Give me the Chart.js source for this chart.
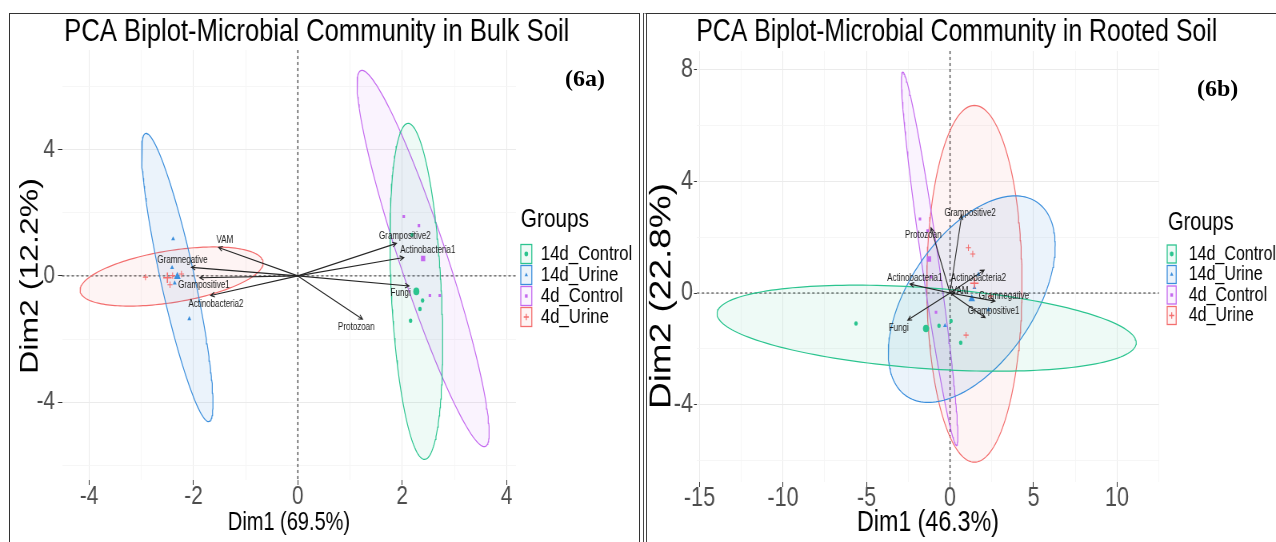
<!DOCTYPE html>
<html><head><meta charset="utf-8">
<script src="https://cdn.jsdelivr.net/npm/chart.js@4.4.0/dist/chart.umd.min.js"></script>
<style>
html,body{margin:0;padding:0;background:#fff;width:1276px;height:542px;overflow:hidden;position:relative;}
canvas{position:absolute;top:0;transform:scaleX(0.8);transform-origin:0 0;}
#c1{left:0;}
#c2{left:640px;}
.frame1{position:absolute;left:9px;top:13px;width:629px;height:540px;border-top:1.5px solid #333;border-left:1.5px solid #333;border-right:1.5px solid #333;}
.frame2{position:absolute;left:643px;top:13px;width:700px;height:540px;border-top:1.5px solid #333;border-left:4px double #444;}
.tag{position:absolute;font-family:'Liberation Serif','Times New Roman',serif;font-weight:bold;font-size:24px;color:#000;line-height:28px;}
</style></head>
<body>
<div class="frame1"></div><div class="frame2"></div>
<canvas id="c1" width="795" height="542"></canvas>
<canvas id="c2" width="795" height="542"></canvas>
<div class="tag" style="left:565px;top:64px">(6a)</div>
<div class="tag" style="left:1197px;top:74px">(6b)</div>
<script>
// ---------------- data ----------------
const groups = ['14d_Control','14d_Urine','4d_Control','4d_Urine'];
const groupColors = ['#2BC48F','#3B8EDC','#C469EF','#F36E6E'];
const groupFillColors = ['rgba(43,196,143,0.08)','rgba(59,142,220,0.10)','rgba(196,105,239,0.08)','rgba(243,110,110,0.08)'];
const groupShapes = ['circle','triangle','rect','cross'];

// Bulk soil (6a)
const bulkTitle = 'PCA Biplot-Microbial Community in Bulk Soil';
const bulkXTitle = 'Dim1 (69.5%)';
const bulkYTitle = 'Dim2 (12.2%)';
const bulkXRange = [-4.52, 4.18];
const bulkYRange = [-6.46, 7.15];
const bulkXGrid = [-4,-3,-2,-1,0,1,2,3,4];
const bulkXLabels = [-4,-2,0,2,4];
const bulkYGrid = [-6,-4,-2,0,2,4,6];
const bulkYLabels = [-4,0,4];
const bulkPointsX = [[2.19,2.39,2.34,2.16],[-2.39,-2.41,-2.36,-2.08],[2.03,2.32,2.53,2.72],[-2.92,-2.40,-2.23,-2.45]];
const bulkPointsY = [[1.30,-0.78,-1.05,-1.42],[1.17,0.26,-0.23,-1.36],[1.88,1.59,-0.62,-0.62],[-0.04,0.01,0.06,-0.28]];
const bulkMeanX = [2.27,-2.31,2.40,-2.50];
const bulkMeanY = [-0.49,-0.02,0.55,-0.06];
const bulkEllipseCX = [2.27,-2.31,2.40,-2.42];
const bulkEllipseCY = [-0.49,-0.05,0.55,-0.02];
const bulkEllipseA = [5.32,4.60,6.07,1.82];
const bulkEllipseB = [0.48,0.33,0.47,0.80];
const bulkEllipseAngle = [91.7,97.5,101.2,17.3];
const bulkVarNames = ['VAM','Gramnegative','Grampositive1','Actinobacteria2','Grampositive2','Actinobacteria1','Fungi','Protozoan'];
const bulkVarX = [-1.52,-2.04,-1.88,-1.67,1.89,2.03,2.13,1.24];
const bulkVarY = [0.90,0.27,-0.06,-0.62,1.03,0.58,-0.32,-1.37];
const bulkLabelX = [-1.40,-2.21,-1.80,-1.57,2.05,2.49,1.97,1.12];
const bulkLabelY = [1.12,0.48,-0.31,-0.90,1.24,0.80,-0.55,-1.64];

// Rooted soil (6b)
const rootTitle = 'PCA Biplot-Microbial Community in Rooted Soil';
const rootXTitle = 'Dim1 (46.3%)';
const rootYTitle = 'Dim2 (22.8%)';
const rootXRange = [-15.15, 12.51];
const rootYRange = [-6.77, 8.67];
const rootXGrid = [-15,-12.5,-10,-7.5,-5,-2.5,0,2.5,5,7.5,10,12.5];
const rootXLabels = [-15,-10,-5,0,5,10];
const rootYGrid = [-6,-4,-2,0,2,4,6,8];
const rootYLabels = [-4,0,4,8];
const rootPointsX = [[-5.63,-0.66,0.06,0.64],[1.70,1.46,-0.30,2.30],[-1.80,-1.34,-1.14,-0.84],[1.10,1.36,0.96,2.42]];
const rootPointsY = [[-1.09,-1.17,-1.00,-1.78],[0.67,0.19,-1.17,-0.60],[2.65,2.23,0.58,-0.69],[1.62,1.40,-1.51,-0.11]];
const rootMeanX = [-1.44,1.30,-1.26,1.46];
const rootMeanY = [-1.27,-0.21,1.22,0.35];
const rootEllipseCX = [-1.40,1.30,-1.22,1.46];
const rootEllipseCY = [-1.26,-0.22,1.23,0.33];
const rootEllipseA = [12.56,5.52,6.88,6.39];
const rootEllipseB = [1.45,2.86,0.50,2.85];
const rootEllipseAngle = [-2.4,29.8,103.6,90];
const rootVarNames = ['Grampositive2','Protozoan','Actinobacteria1','Actinobacteria2','VAM','Gramnegative','Grampositive1','Fungi'];
const rootVarX = [0.70,-1.14,-2.40,2.04,0.30,2.69,2.10,-2.53];
const rootVarY = [2.80,2.34,0.32,0.82,0.00,-0.29,-0.88,-0.97];
const rootLabelX = [1.20,-1.60,-2.11,1.70,0.60,3.23,2.61,-3.07];
const rootLabelY = [2.86,2.08,0.53,0.53,0.05,-0.11,-0.65,-1.27];

// ---------------- rendering ----------------
const FONT = "'Liberation Sans',Arial,sans-serif";

function ellipsePoints(cx, cy, a, b, angDeg, n) {
  const t = angDeg * Math.PI / 180, pts = [];
  for (let i = 0; i <= n; i++) {
    const s = 2 * Math.PI * i / n, u = a * Math.cos(s), v = b * Math.sin(s);
    pts.push({x: cx + u * Math.cos(t) - v * Math.sin(t), y: cy + u * Math.sin(t) + v * Math.cos(t)});
  }
  return pts;
}

const smallR = {circle:2.2, triangle:2.8, rect:2.2, cross:3.2};
const bigR = {circle:3.8, triangle:4.8, rect:3.8, cross:5.2};

function buildDatasets(P) {
  const ds = [];
  groups.forEach((g, i) => {
    ds.push({type:'line', label:g+' ellipse',
      data: ellipsePoints(P.ecx[i], P.ecy[i], P.ea[i], P.eb[i], P.eang[i], 180),
      borderColor: groupColors[i], backgroundColor: groupFillColors[i], borderWidth: 1.2,
      pointRadius: 0, fill: 'shape', tension: 0, order: 5});
  });
  groups.forEach((g, i) => {
    const sh = groupShapes[i];
    ds.push({type:'scatter', label:g, data: P.px[i].map((x, k) => ({x: x, y: P.py[i][k]})),
      pointStyle: sh, pointRadius: smallR[sh], backgroundColor: groupColors[i], borderColor: groupColors[i],
      borderWidth: sh === 'cross' ? 1.1 : 0, order: 2});
    ds.push({type:'scatter', label:g+' mean', data: [{x: P.mx[i], y: P.my[i]}],
      pointStyle: sh, pointRadius: bigR[sh], backgroundColor: groupColors[i], borderColor: groupColors[i],
      borderWidth: sh === 'cross' ? 1.6 : 0, order: 1});
  });
  return ds;
}

function axis(pos, range, grid, labels, L) {
  const horiz = pos === 'bottom';
  return {
    type: 'linear', position: pos, min: range[0], max: range[1], bounds: 'data',
    afterBuildTicks: s => { s.ticks = grid.map(v => ({value: v})); },
    afterFit: s => { if (horiz) s.height = L.size; else s.width = L.size; },
    ticks: {autoSkip: false, maxRotation: 0, minRotation: 0, padding: L.tickPad, color: '#4D4D4D',
      font: {family: FONT, size: L.tickSize, lineHeight: 1},
      callback: v => labels.includes(v) ? String(v) : ''},
    grid: {color: c => labels.includes(c.tick && c.tick.value) ? '#EBEBEB' : '#F4F4F4',
      lineWidth: c => labels.includes(c.tick && c.tick.value) ? 1 : 0.8,
      tickColor: c => labels.includes(c.tick && c.tick.value) ? '#333333' : 'rgba(0,0,0,0)',
      tickLength: L.tickLen, drawTicks: true},
    border: {display: false},
    title: {display: horiz, text: L.title, color: '#000',
      font: {family: FONT, size: L.titleSize, lineHeight: 1},
      padding: {top: 0, bottom: L.titlePad}}
  };
}

function overlay(P, Lay) {
  return {
    id: 'overlay',
    beforeDatasetsDraw(chart) {
      const {ctx, chartArea: a, scales: {x, y}} = chart;
      const x0 = x.getPixelForValue(0), y0 = y.getPixelForValue(0);
      ctx.save();
      ctx.strokeStyle = '#333'; ctx.lineWidth = 1; ctx.setLineDash([3, 3]);
      ctx.beginPath(); ctx.moveTo(a.left, y0); ctx.lineTo(a.right, y0); ctx.stroke();
      ctx.lineWidth = 1.25;
      ctx.beginPath(); ctx.moveTo(x0, a.top); ctx.lineTo(x0, a.bottom); ctx.stroke();
      ctx.restore();
    },
    afterDatasetsDraw(chart) {
      const {ctx, scales: {x, y}} = chart;
      const x0 = x.getPixelForValue(0), y0 = y.getPixelForValue(0);
      ctx.save();
      ctx.strokeStyle = '#262626'; ctx.lineWidth = 1.1;
      P.vx.forEach((vx, i) => {
        const px = x.getPixelForValue(vx), py = y.getPixelForValue(P.vy[i]);
        const ang = Math.atan2(py - y0, px - x0), L = 5.5, sp = 0.45;
        ctx.beginPath(); ctx.moveTo(x0, y0); ctx.lineTo(px, py);
        ctx.moveTo(px - L * Math.cos(ang - sp), py - L * Math.sin(ang - sp)); ctx.lineTo(px, py);
        ctx.lineTo(px - L * Math.cos(ang + sp), py - L * Math.sin(ang + sp));
        ctx.stroke();
      });
      ctx.fillStyle = '#1a1a1a'; ctx.font = '10px ' + FONT; ctx.textAlign = 'center'; ctx.textBaseline = 'middle';
      P.names.forEach((n, i) => {
        ctx.fillText(n, x.getPixelForValue(P.lx[i]), y.getPixelForValue(P.ly[i]));
      });
      ctx.restore();
    },
    afterDraw(chart) {
      const {ctx} = chart, G = P.legend;
      ctx.save();
      // main title
      ctx.fillStyle = '#000'; ctx.textAlign = 'center'; ctx.textBaseline = 'middle';
      ctx.font = Lay.titleSize + 'px ' + FONT;
      ctx.fillText(P.title, Lay.titleX, Lay.titleY);
      // y axis title
      ctx.save();
      ctx.translate(Lay.yTitleX, Lay.yTitleY); ctx.rotate(-Math.PI / 2);
      ctx.font = Lay.yTitleSize + 'px ' + FONT;
      ctx.fillText(P.yTitle, 0, 0);
      ctx.restore();
      // legend
      ctx.textAlign = 'left';
      ctx.font = G.titleSize + 'px ' + FONT;
      ctx.fillText('Groups', G.x, G.titleY);
      groups.forEach((g, i) => {
        const cy = G.y0 + i * G.dy;
        ctx.fillStyle = groupFillColors[i];
        ctx.fillRect(G.keyX, cy - G.keyH / 2, G.keyW, G.keyH);
        ctx.strokeStyle = groupColors[i]; ctx.lineWidth = 1.3;
        ctx.strokeRect(G.keyX, cy - G.keyH / 2, G.keyW, G.keyH);
        ctx.fillStyle = groupColors[i];
        const sh = groupShapes[i];
        Chart.helpers.drawPoint(ctx, {pointStyle: sh, radius: sh === 'cross' ? 3.2 : 2.4, rotation: 0,
          borderWidth: sh === 'cross' ? 1 : 0}, G.keyX + G.keyW / 2, cy);
        ctx.fillStyle = '#000';
        ctx.font = G.textSize + 'px ' + FONT;
        ctx.fillText(g, G.textX, cy);
      });
      ctx.restore();
    }
  };
}

function makeChart(id, P, Lay) {
  new Chart(document.getElementById(id), {
    type: 'scatter',
    data: {datasets: buildDatasets(P)},
    options: {
      responsive: false, animation: false, events: [], devicePixelRatio: 1,
      layout: {padding: Lay.padding, autoPadding: false},
      plugins: {legend: {display: false}, tooltip: {enabled: false}, title: {display: false}},
      scales: {
        x: axis('bottom', P.xr, P.xg, P.xl, Lay.x),
        y: axis('left', P.yr, P.yg, P.yl, Lay.y)
      }
    },
    plugins: [overlay(P, Lay)]
  });
}

// canvas coordinates are page coordinates / 0.8 horizontally (canvas is squeezed by CSS)
makeChart('c1', {
  title: bulkTitle, yTitle: bulkYTitle,
  xr: bulkXRange, yr: bulkYRange, xg: bulkXGrid, xl: bulkXLabels, yg: bulkYGrid, yl: bulkYLabels,
  px: bulkPointsX, py: bulkPointsY, mx: bulkMeanX, my: bulkMeanY,
  ecx: bulkEllipseCX, ecy: bulkEllipseCY, ea: bulkEllipseA, eb: bulkEllipseB, eang: bulkEllipseAngle,
  names: bulkVarNames, vx: bulkVarX, vy: bulkVarY, lx: bulkLabelX, ly: bulkLabelY,
  legend: {x: 651, titleY: 220, titleSize: 26, keyX: 651, keyW: 13.75, keyH: 19, y0: 254, dy: 21, textX: 676, textSize: 21}
}, {
  padding: {left: 10, right: 150, top: 50, bottom: 0},
  titleSize: 32, titleX: 396, titleY: 32,
  yTitleX: 38.5, yTitleY: 276, yTitleSize: 32,
  x: {size: 62, tickPad: -1, tickSize: 26, tickLen: 5, title: bulkXTitle, titleSize: 25, titlePad: 6},
  y: {size: 67.5, tickPad: 3.75, tickSize: 26, tickLen: 5}
});

makeChart('c2', {
  title: rootTitle, yTitle: rootYTitle,
  xr: rootXRange, yr: rootYRange, xg: rootXGrid, xl: rootXLabels, yg: rootYGrid, yl: rootYLabels,
  px: rootPointsX, py: rootPointsY, mx: rootMeanX, my: rootMeanY,
  ecx: rootEllipseCX, ecy: rootEllipseCY, ea: rootEllipseA, eb: rootEllipseB, eang: rootEllipseAngle,
  names: rootVarNames, vx: rootVarX, vy: rootVarY, lx: rootLabelX, ly: rootLabelY,
  legend: {x: 660, titleY: 223, titleSize: 25, keyX: 659, keyW: 11.25, keyH: 18, y0: 254, dy: 20.5, textX: 686, textSize: 20}
}, {
  padding: {left: 6.25, right: 146.25, top: 51, bottom: 0},
  titleSize: 31, titleX: 396, titleY: 32,
  yTitleX: 27.5, yTitleY: 296, yTitleSize: 37,
  x: {size: 60, tickPad: -2, tickSize: 27, tickLen: 5, title: rootXTitle, titleSize: 29, titlePad: 5},
  y: {size: 65, tickPad: 1.25, tickSize: 27, tickLen: 3.75}
});
</script>
</body></html>
